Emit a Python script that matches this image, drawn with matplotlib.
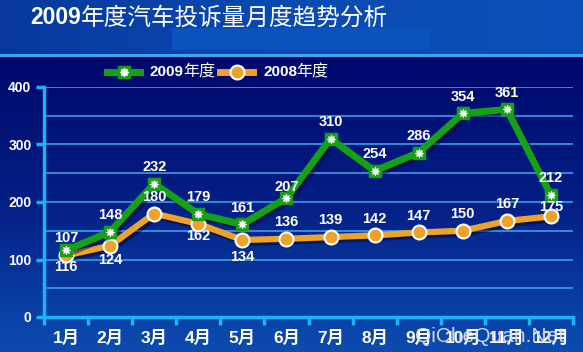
import numpy as np
import matplotlib
matplotlib.use("Agg")
import matplotlib.pyplot as plt
import matplotlib.patheffects as pe
from matplotlib.colors import LinearSegmentedColormap
from matplotlib.lines import Line2D
from matplotlib.patches import Rectangle
from matplotlib.ticker import MultipleLocator

# data
months = ["1月", "2月", "3月", "4月", "5月", "6月", "7月", "8月", "9月", "10月", "11月", "12月"]
v2009 = [116, 148, 232, 179, 161, 207, 310, 254, 286, 354, 361, 212]
v2008 = [107, 124, 180, 162, 134, 136, 139, 142, 147, 150, 167, 175]
# numbers printed on the chart (Jan labels are swapped in the original)
lab2009 = ["107", "148", "232", "179", "161", "207", "310", "254", "286", "354", "361", "212"]
lab2008 = ["116", "124", "180", "162", "134", "136", "139", "142", "147", "150", "167", "175"]
# label offsets (points, + above / - below)
off2009 = [9, 12, 12, 12, 12, 8, 12, 12, 12, 12, 12, 12]
off2008 = [-8, -10, 12, -9, -12, 12, 12, 12, 12, 12, 12, 7]

FONT = ["Liberation Sans", "Noto Sans CJK SC"]
CJK = ["Noto Sans CJK SC", "DejaVu Sans"]
GREEN = "#16a016"
ORANGE = "#eea328"
CYAN = "#1cb2f5"
GRID = "#3a9cec"

W, H = 583, 352
fig = plt.figure(figsize=(W / 100, H / 100), dpi=100)

# backgrounds
bg = fig.add_axes([0, 0, 1, 1], zorder=-10)
bg.set_axis_off()
bg.set_xlim(0, W)
bg.set_ylim(H, 0)
panel_cmap = LinearSegmentedColormap.from_list("panel", ["#00086a", "#041f86", "#0c4cb0"])
bg.imshow(np.linspace(0, 1, 256).reshape(-1, 1), cmap=panel_cmap, aspect="auto",
          extent=[0, W, H, 56])
title_cmap = LinearSegmentedColormap.from_list("title", ["#08389c", "#0a4bb2", "#0b50b8"])
bg.imshow(np.linspace(0, 1, 256).reshape(1, -1), cmap=title_cmap, aspect="auto",
          extent=[0, W, 56, 0])
bg.add_patch(Rectangle((172, 28), 258, 22, color="#0a52be", lw=0))
bg.add_patch(Rectangle((0, 53.5), W, 3, color="#3fa6ee", lw=0))

# title
ty = 1 - 18 / H
t1 = fig.text(30 / W, ty, "2009", fontsize=16.5, fontweight="bold",
              family=FONT, color="white", va="center", ha="left")
fig.canvas.draw()
fig.text(0, 0, "年度汽车投诉量月度趋势分析", fontsize=17, family=CJK, color="white",
         va="center", ha="left",
         transform=matplotlib.transforms.offset_copy(
             fig.transFigure, fig=fig,
             x=t1.get_window_extent().x1 * 72 / fig.dpi,
             y=ty * H * 72 / fig.dpi - 0.5, units="points"))

# main axes
ax = fig.add_axes([44 / W, 1 - 317 / H, (573 - 44) / W, (317 - 87) / H])
ax.set_facecolor("none")
x = np.arange(len(months))
shadow = [pe.SimpleLineShadow(offset=(2, -2), alpha=0.45, shadow_color="#000030"), pe.Normal()]

ax.plot(x, v2008, color=ORANGE, lw=4.5, zorder=3, path_effects=shadow, solid_joinstyle="round")
ax.plot(x, v2008, ls="none", marker="o", ms=10, mfc=ORANGE, mec="white", mew=1.5, zorder=4)
ax.plot(x, v2009, color=GREEN, lw=5, zorder=5, path_effects=shadow, solid_joinstyle="miter")
ax.plot(x, v2009, ls="none", marker="s", ms=9, mfc=GREEN, mec=GREEN, zorder=6)
ax.plot(x, v2009, ls="none", marker=(8, 1, 0), ms=6, mfc="white", mec="white", mew=0.6, zorder=7)

for i in range(len(months)):
    ax.annotate(lab2009[i], (x[i], v2009[i]), xytext=(0, off2009[i]), textcoords="offset points",
                ha="center", va="center", fontsize=10.5, fontweight="bold", family=FONT,
                color="white", zorder=8)
    ax.annotate(lab2008[i], (x[i], v2008[i]), xytext=(0, off2008[i]), textcoords="offset points",
                ha="center", va="center", fontsize=10.5, fontweight="bold", family=FONT,
                color="white", zorder=8)

ax.set_xlim(-0.5, len(months) - 0.5)
ax.set_ylim(0, 400)
for s in ["top", "right"]:
    ax.spines[s].set_visible(False)
for s in ["left", "bottom"]:
    ax.spines[s].set_color(CYAN)
    ax.spines[s].set_linewidth(2.5)
    ax.spines[s].set_zorder(9)

ax.set_yticks([0, 100, 200, 300, 400])
ax.yaxis.set_minor_locator(MultipleLocator(50))
ax.grid(axis="y", which="both", color=GRID, lw=1.2, zorder=1)
ax.tick_params(axis="y", which="major", colors=CYAN, length=6, width=2.5, pad=3,
               labelcolor="white", labelsize=10)
ax.tick_params(axis="y", which="minor", length=0)
for lbl in ax.get_yticklabels():
    lbl.set_fontweight("bold")
    lbl.set_family(FONT)

ax.set_xticks(np.arange(-0.5, len(months), 1.0))
ax.set_xticklabels([])
ax.set_xticks(x, minor=True)
ax.set_xticklabels(months, minor=True)
ax.tick_params(axis="x", which="major", colors=CYAN, length=6, width=2.5, direction="out")
ax.tick_params(axis="x", which="minor", length=0, pad=9, labelcolor="white", labelsize=12.5)
for lbl in ax.get_xticklabels(minor=True):
    lbl.set_fontweight("bold")
    lbl.set_family(FONT)

# legend drawn by hand
ly = 1 - 72 / H
for x0, col, kind, year in [(107, GREEN, "s", "2009"), (220, ORANGE, "o", "2008")]:
    fig.add_artist(Line2D([x0 / W, (x0 + 33) / W], [ly, ly], color=col, lw=5,
                          transform=fig.transFigure))
    if kind == "s":
        fig.add_artist(Line2D([(x0 + 16.5) / W], [ly], ls="none", marker="s", ms=9,
                              mfc=col, mec=col, transform=fig.transFigure))
        fig.add_artist(Line2D([(x0 + 16.5) / W], [ly], ls="none", marker=(8, 1, 0), ms=6,
                              mfc="white", mec="white", transform=fig.transFigure))
    else:
        fig.add_artist(Line2D([(x0 + 16.5) / W], [ly], ls="none", marker="o", ms=10,
                              mfc=col, mec="white", mew=1.5, transform=fig.transFigure))
    t = fig.text((x0 + 43) / W, ly, year, fontsize=11, fontweight="bold", family=FONT,
                 color="white", va="center", ha="left")
    fig.canvas.draw()
    ext = t.get_window_extent()
    fig.text(ext.x1 / W - 0.002, ly, "年度", fontsize=11.5, family=CJK, color="white",
             va="center", ha="left")

# watermark
fig.text(490 / W, 1 - 337 / H, "QiCheQuan.Net", fontsize=15, family=["Liberation Sans"],
         color="#d8dde8", alpha=0.95, ha="center", va="center", zorder=20)

fig.savefig("out.png", dpi=100)
